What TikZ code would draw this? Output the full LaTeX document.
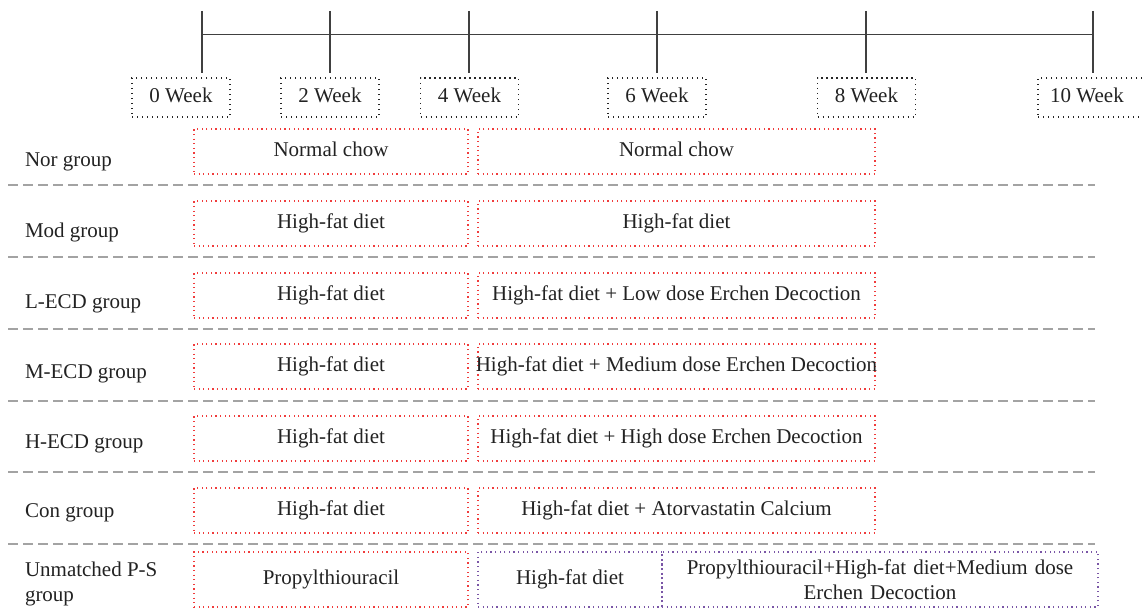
\documentclass[tikz,border=0pt]{standalone}
\usepackage{fontspec}
\setmainfont{Liberation Serif}
\definecolor{tlc}{HTML}{404040}
\definecolor{sepc}{HTML}{A3A3A3}
\definecolor{redc}{HTML}{F03C3C}
\definecolor{purc}{HTML}{7A56A6}
\definecolor{txt}{HTML}{222222}
\begin{document}
\begin{tikzpicture}[x=1pt,y=-1pt,
  every node/.style={font=\fontsize{21}{25}\selectfont, text=txt, inner sep=0pt, outer sep=0pt},
  tl/.style={draw=tlc, line width=1.4pt},
  sepline/.style={draw=sepc, line width=1.5pt, dash pattern=on 10pt off 5pt},
  weekbox/.style={draw=black!85, line width=1.3pt, dash pattern=on 1.3pt off 3.7pt,
    minimum width=98pt, minimum height=39pt, text height=9pt, text depth=0pt},
  redbox/.style={draw=redc, line width=1.2pt, dash pattern=on 1.2pt off 3.4pt,
    minimum height=45pt, text height=10pt, text depth=0pt},
  purbox/.style={draw=purc, line width=1.2pt, dash pattern=on 1.2pt off 3.4pt,
    minimum height=55pt, text height=10pt, text depth=0pt},
  grp/.style={anchor=base west},
]
\useasboundingbox (0,0) rectangle (1143,610);
\clip (0,0) rectangle (1143,610);

% timeline
\coordinate (top) at (0,11);
\coordinate (bot) at (0,73);
\coordinate (t0) at (202,34.5);
\coordinate (t2) at (330,34.5);
\coordinate (t4) at (469,34.5);
\coordinate (t6) at (657,34.5);
\coordinate (t8) at (866,34.5);
\coordinate (t10) at (1093,34.5);
\draw[tl] (t0) -- (t10);
\foreach \t in {t0,t2,t4,t6,t8,t10}{
  \draw[tl] (\t |- top) -- (\t |- bot);
}

% week boxes
\node[weekbox] (w0) at (181,97.5) {\makebox[0pt]{0 Week}};
\node[weekbox] (w2) at (330,97.5) {\makebox[0pt]{2 Week}};
\node[weekbox] (w4) at (469.5,97.5) {\makebox[0pt]{4 Week}};
\node[weekbox] (w6) at (657,97.5) {\makebox[0pt]{6 Week}};
\node[weekbox] (w8) at (866.5,97.5) {\makebox[0pt]{8 Week}};
\node[weekbox, minimum width=110pt] (w10) at (1093,97.5) {\makebox[0pt]{\hspace*{-12pt}10 Week}};

% separators
\foreach \y in {185,257,329,401,472,544}{
  \draw[sepline] (8,\y) -- (1095,\y);
}

% row labels
\node[grp] (g1) at (25,166) {Nor group};
\node[grp] (g2) at (25,237) {Mod group};
\node[grp] (g3) at (25,308) {L-ECD group};
\node[grp] (g4) at (25,378) {M-ECD group};
\node[grp] (g5) at (25,448) {H-ECD group};
\node[grp] (g6) at (25,517) {Con group};
\node[anchor=base west, align=left] (g7) at (25,601) {Unmatched P-S\\group};

% boxes
\node[redbox, minimum width=274pt] (a1) at (331,151.5) {\makebox[0pt]{Normal chow}};
\node[redbox, minimum width=397pt] (b1) at (676.5,151.5) {\makebox[0pt]{Normal chow}};
\node[redbox, minimum width=274pt] (a2) at (331,223.5) {\makebox[0pt]{High-fat diet}};
\node[redbox, minimum width=397pt] (b2) at (676.5,223.5) {\makebox[0pt]{High-fat diet}};
\node[redbox, minimum width=274pt] (a3) at (331,295.5) {\makebox[0pt]{High-fat diet}};
\node[redbox, minimum width=397pt] (b3) at (676.5,295.5) {\makebox[0pt]{High-fat diet + Low dose Erchen Decoction}};
\node[redbox, minimum width=274pt] (a4) at (331,366.5) {\makebox[0pt]{High-fat diet}};
\node[redbox, minimum width=397pt] (b4) at (676.5,366.5) {\makebox[0pt]{High-fat diet + Medium dose Erchen Decoction}};
\node[redbox, minimum width=274pt] (a5) at (331,438.5) {\makebox[0pt]{High-fat diet}};
\node[redbox, minimum width=397pt] (b5) at (676.5,438.5) {\makebox[0pt]{High-fat diet + High dose Erchen Decoction}};
\node[redbox, minimum width=274pt] (a6) at (331,510.5) {\makebox[0pt]{High-fat diet}};
\node[redbox, minimum width=397pt] (b6) at (676.5,510.5) {\makebox[0pt]{High-fat diet + Atorvastatin Calcium}};

% unmatched row
\node[redbox, minimum width=274pt, minimum height=55pt] (a7) at (331,579.5) {\makebox[0pt]{Propylthiouracil}};
\node[purbox, minimum width=184pt] (b7) at (570,579.5) {\makebox[0pt]{High-fat diet}};
\node[draw=purc, line width=1.2pt, dash pattern=on 1.2pt off 3.4pt,
  minimum width=436pt, minimum height=55pt, text width=430pt, align=center] (c7) at (880,579.5)
  {Propylthiouracil+High-fat diet+Medium dose\\Erchen Decoction};
\end{tikzpicture}
\end{document}
